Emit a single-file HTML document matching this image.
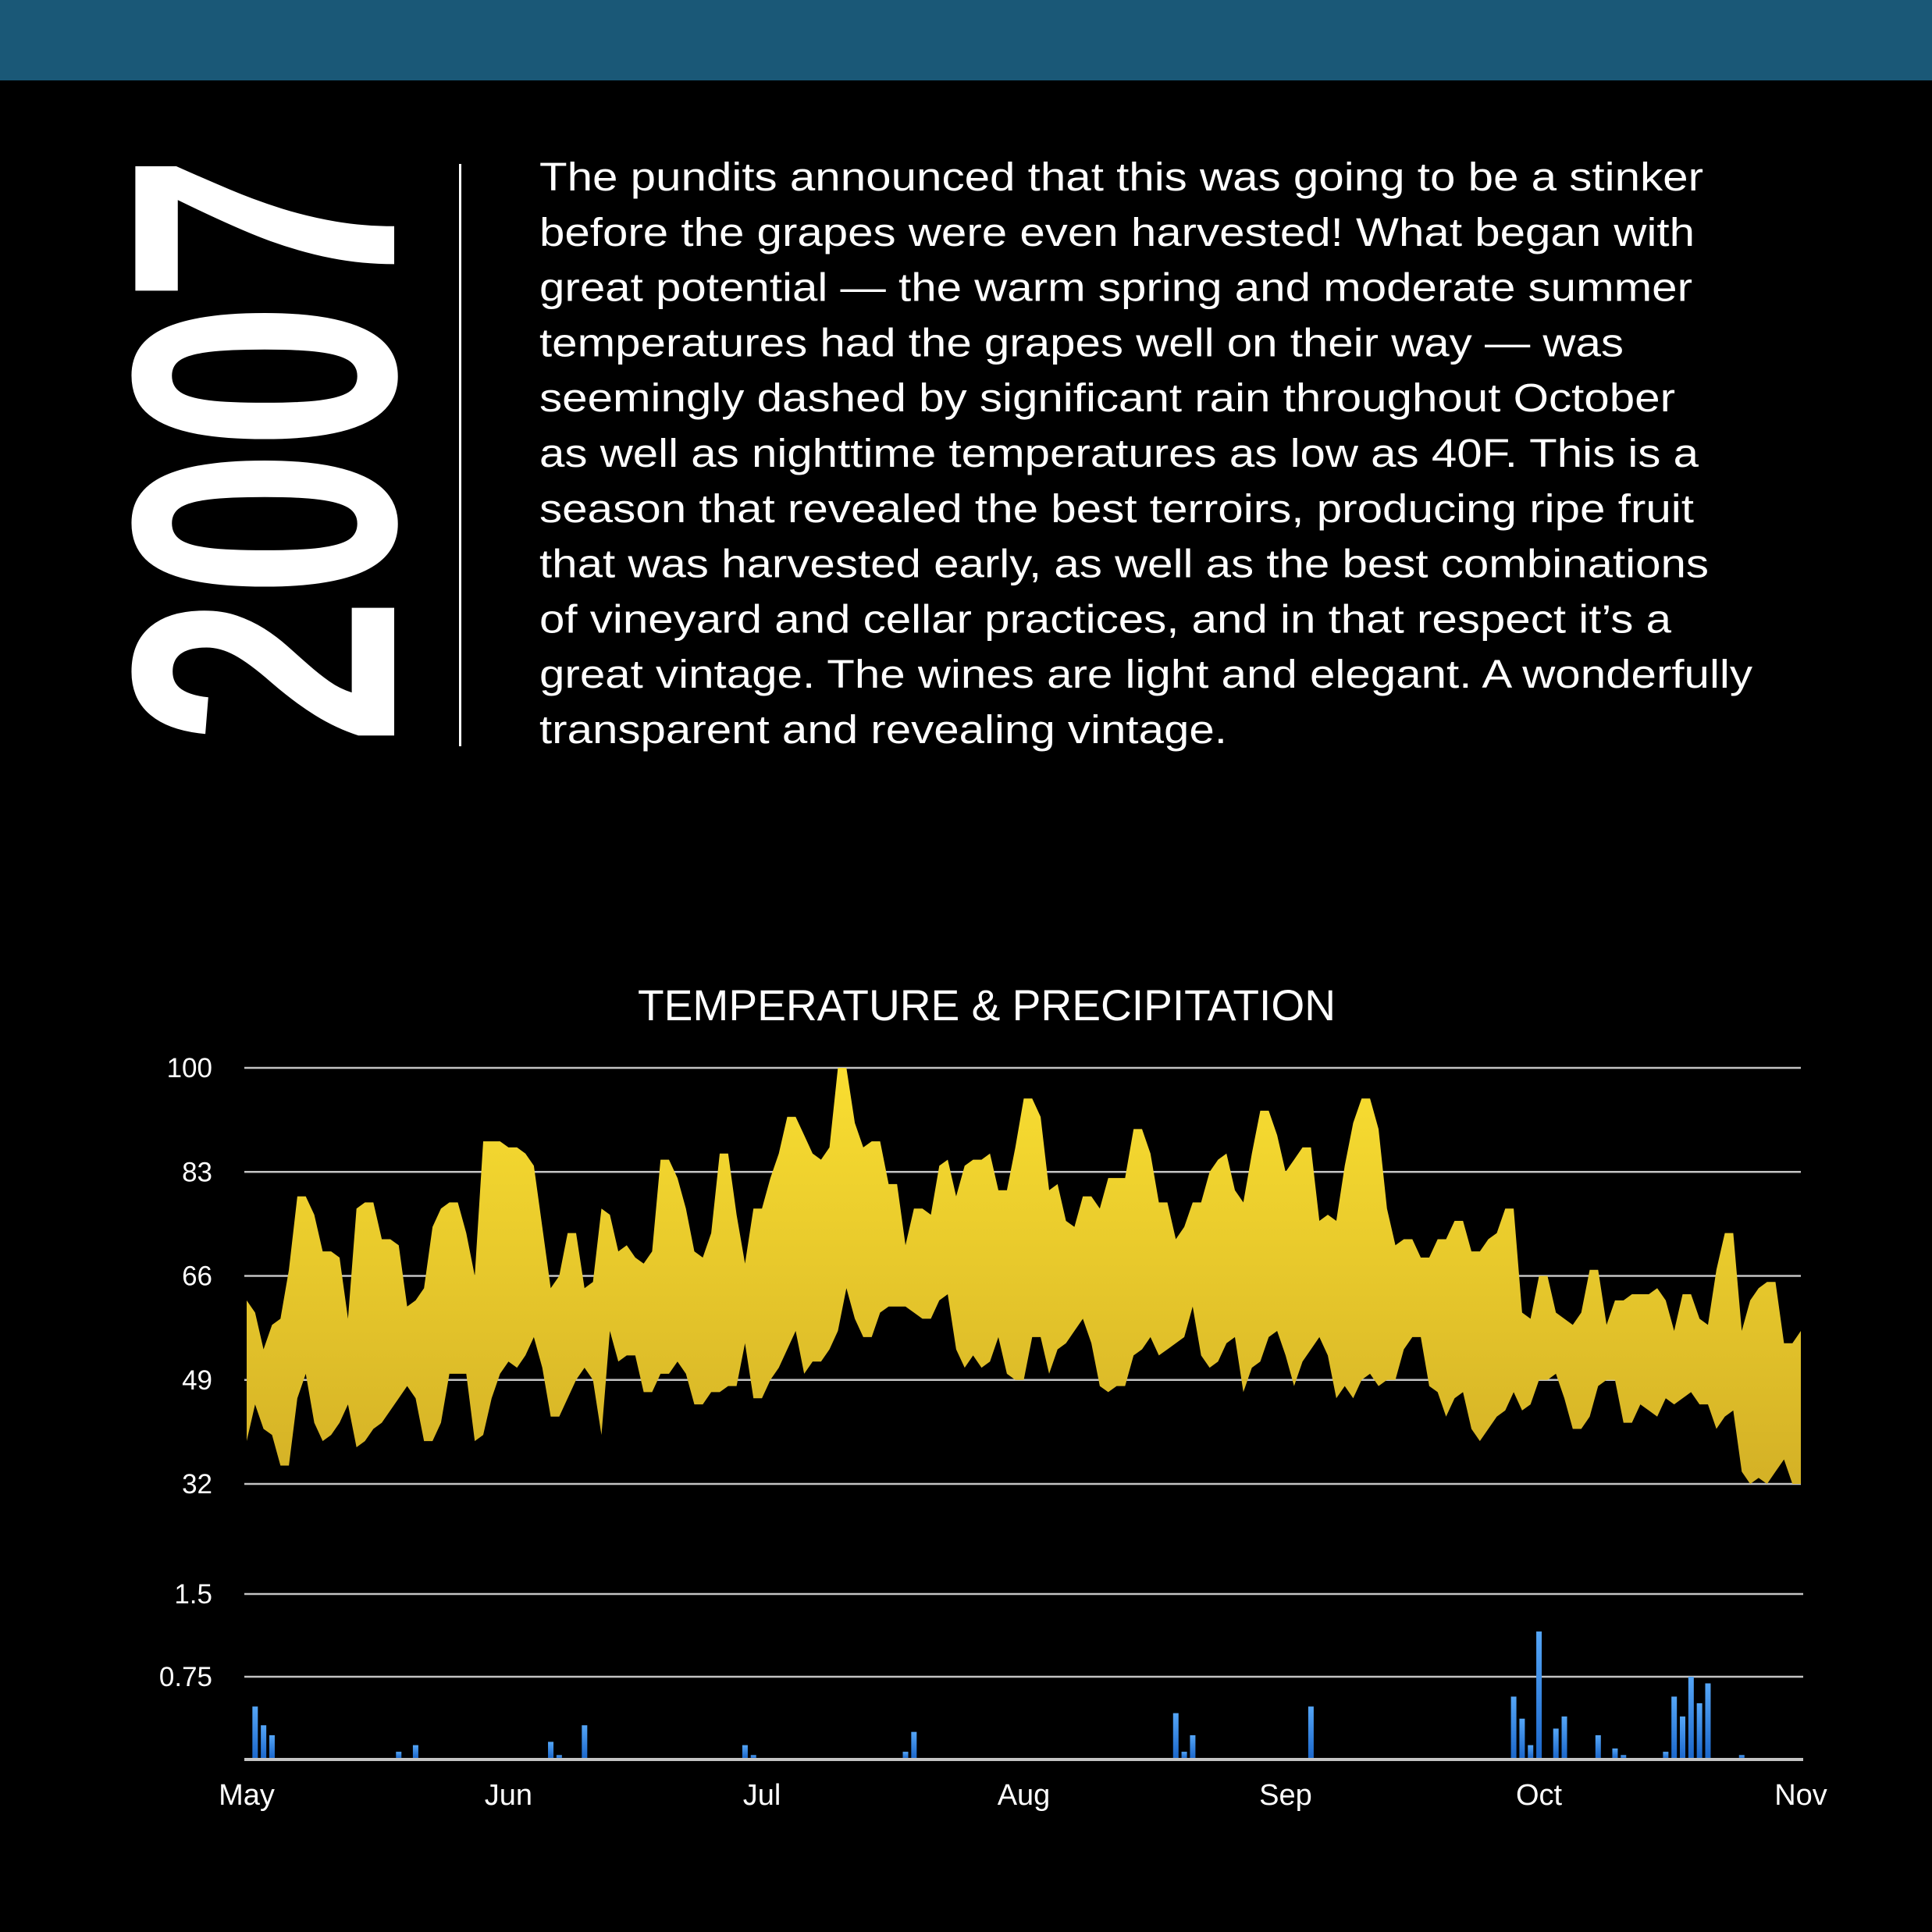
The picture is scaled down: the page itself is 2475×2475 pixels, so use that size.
<!DOCTYPE html>
<html><head><meta charset="utf-8"><title>2007 Vintage</title>
<style>html,body{margin:0;padding:0;background:#000;}svg{display:block;font-family:"Liberation Sans",Arial,sans-serif;}</style></head>
<body>
<svg id="page" width="2475" height="2475" viewBox="0 0 2475 2475" xmlns="http://www.w3.org/2000/svg">
<defs>
<linearGradient id="tempGrad" gradientUnits="userSpaceOnUse" x1="0" y1="1368" x2="0" y2="1901">
<stop offset="0" stop-color="#f9de31"/><stop offset="1" stop-color="#d4b126"/></linearGradient>
<linearGradient id="rainGrad" x1="0" y1="0" x2="0" y2="1">
<stop offset="0" stop-color="#55a6f7"/><stop offset="1" stop-color="#1c68cc"/></linearGradient>
</defs>
<rect width="2475" height="2475" fill="#000"/>
<rect x="0" y="0" width="2475" height="103" fill="#1a5877"/>
<text transform="translate(505,576) rotate(-90) scale(0.705,1)" text-anchor="middle" font-size="482" font-weight="bold" fill="#fff">2007</text>
<rect x="588" y="210" width="3" height="746" fill="#fff"/>
<g fill="#fff" font-size="51" id="para"></g>
<text x="1264" y="1307" text-anchor="middle" font-size="56" fill="#fff" textLength="894" lengthAdjust="spacingAndGlyphs">TEMPERATURE &amp; PRECIPITATION</text>
<g id="chart"></g>
</svg>
<script>
const lines=["The pundits announced that this was going to be a stinker","before the grapes were even harvested! What began with","great potential — the warm spring and moderate summer","temperatures had the grapes well on their way — was","seemingly dashed by significant rain throughout October","as well as nighttime temperatures as low as 40F. This is a","season that revealed the best terroirs, producing ripe fruit","that was harvested early, as well as the best combinations","of vineyard and cellar practices, and in that respect it’s a","great vintage. The wines are light and elegant. A wonderfully","transparent and revealing vintage."];
const lineEnds=[1383,1376,1374,1318,1360,1379,1375,1387,1357,1423,996];

const highTemps=[62,60,54,58,59,67,79,79,76,70,70,69,59,77,78,78,72,72,71,61,62,64,74,77,78,78,73,66,88,88,88,87,87,86,84,74,64,66,73,73,64,65,77,76,70,71,69,68,70,85,85,82,77,70,69,73,86,86,76,68,77,77,82,
86,92,92,89,86,85,87,100,100,91,87,88,88,81,81,71,77,77,76,84,85,79,84,85,85,86,80,80,87,95,95,92,80,81,75,74,79,79,77,82,82,82,90,90,86,78,78,72,74,78,78,83,85,86,80,78,86,93,93,89,83,85,
87,87,75,76,75,84,91,95,95,90,77,71,72,72,69,69,72,72,75,75,70,70,72,73,77,77,60,59,66,66,60,59,58,60,67,67,58,62,62,63,63,63,64,62,57,63,63,59,58,67,73,73,57,62,64,65,65,55,55,57];
const lowTemps=[39,45,41,40,35,35,46,50,42,39,40,42,45,38,39,41,42,44,46,48,46,39,39,42,50,50,50,39,40,46,50,52,51,53,56,51,43,43,46,49,51,49,40,57,52,53,53,47,47,50,50,52,50,45,45,47,47,48,48,55,46,46,49,
51,54,57,50,52,52,54,57,64,59,56,56,60,61,61,61,60,59,59,62,63,54,51,53,51,52,56,50,49,49,56,56,50,54,55,57,59,55,48,47,48,48,53,54,56,53,54,55,56,61,53,51,52,55,56,47,51,52,56,57,53,48,
52,54,56,53,46,48,46,49,50,48,49,49,54,56,56,48,47,43,46,47,41,39,41,43,44,47,44,45,49,49,50,46,41,41,43,48,49,49,42,42,45,44,43,46,45,46,47,45,45,41,43,44,34,32,33,32,34,36,32,32];
const rainDays=[1,2,3,18,20,36,37,40,59,60,78,79,110,111,112,126,150,151,152,153,155,156,160,162,163,168,169,170,171,172,173,177];
const rainValues=[0.48,0.31,0.22,0.07,0.13,0.16,0.04,0.31,0.13,0.04,0.07,0.25,0.42,0.07,0.22,0.48,0.57,0.37,0.13,1.16,0.28,0.39,0.22,0.10,0.04,0.07,0.57,0.39,0.75,0.51,0.69,0.04];
const tempTicks=[100,83,66,49,32];
const rainTicks=[1.5,0.75,0];
const rainTickLabels=["1.5","0.75",""];
const monthNames=["May","Jun","Jul","Aug","Sep","Oct","Nov"];
const monthStartDays=[0,31,61,92,123,153,184];

const NS="http://www.w3.org/2000/svg";
function mk(tag,attrs,parent){const e=document.createElementNS(NS,tag);for(const k in attrs)e.setAttribute(k,attrs[k]);parent.appendChild(e);return e;}
const para=document.getElementById('para');
lines.forEach((t,i)=>{
  const e=mk('text',{x:691,y:(244+i*70.8).toFixed(1),textLength:(lineEnds[i]*1.578-691).toFixed(0),lengthAdjust:'spacingAndGlyphs'},para);
  
  
  e.textContent=t;
});

const X0=316,X1=2307,NDAYS=184;
const xDay=d=>X0+(X1-X0)*d/NDAYS;
const yTemp=v=>1368+(100-v)*(1901-1368)/68;
const yRain=v=>2254-v*(2254-2042)/1.5;
const chart=document.getElementById('chart');

tempTicks.forEach(v=>{
  const g=mk('line',{x1:313,x2:2307,y1:yTemp(v),y2:yTemp(v),stroke:'#c4c4c4','stroke-width':2.5},chart);
  
  
  const t=mk('text',{x:272,y:yTemp(v)+12,'text-anchor':'end','font-size':35,fill:'#fff'},chart);
  
  
  t.textContent=v;
});
rainTicks.forEach((v,i)=>{
  const g=mk('line',{x1:313,x2:2310,y1:yRain(v),y2:yRain(v),stroke:'#c4c4c4','stroke-width':i==2?4:2.5},chart);
  
  
  if(rainTickLabels[i]){
    const t=mk('text',{x:272,y:yRain(v)+12,'text-anchor':'end','font-size':35,fill:'#fff'},chart);
    
    
    t.textContent=rainTickLabels[i];
  }
});

let pts=highTemps.map((v,i)=>xDay(i).toFixed(1)+','+yTemp(v).toFixed(1));
for(let i=lowTemps.length-1;i>=0;i--)pts.push(xDay(i).toFixed(1)+','+yTemp(lowTemps[i]).toFixed(1));
const area=mk('polygon',{points:pts.join(' '),fill:'url(#tempGrad)'},chart);



rainDays.forEach((d,i)=>{
  const y=yRain(rainValues[i]);
  const b=mk('rect',{x:xDay(d)-3.5,y:y,width:7,height:yRain(0)-y-2,fill:'url(#rainGrad)'},chart);
  
  
});

monthNames.forEach((m,i)=>{
  const t=mk('text',{x:xDay(monthStartDays[i]),y:2312,'text-anchor':'middle','font-size':38,fill:'#fff'},chart);
  
  
  t.textContent=m;
});
</script>
</body></html>
